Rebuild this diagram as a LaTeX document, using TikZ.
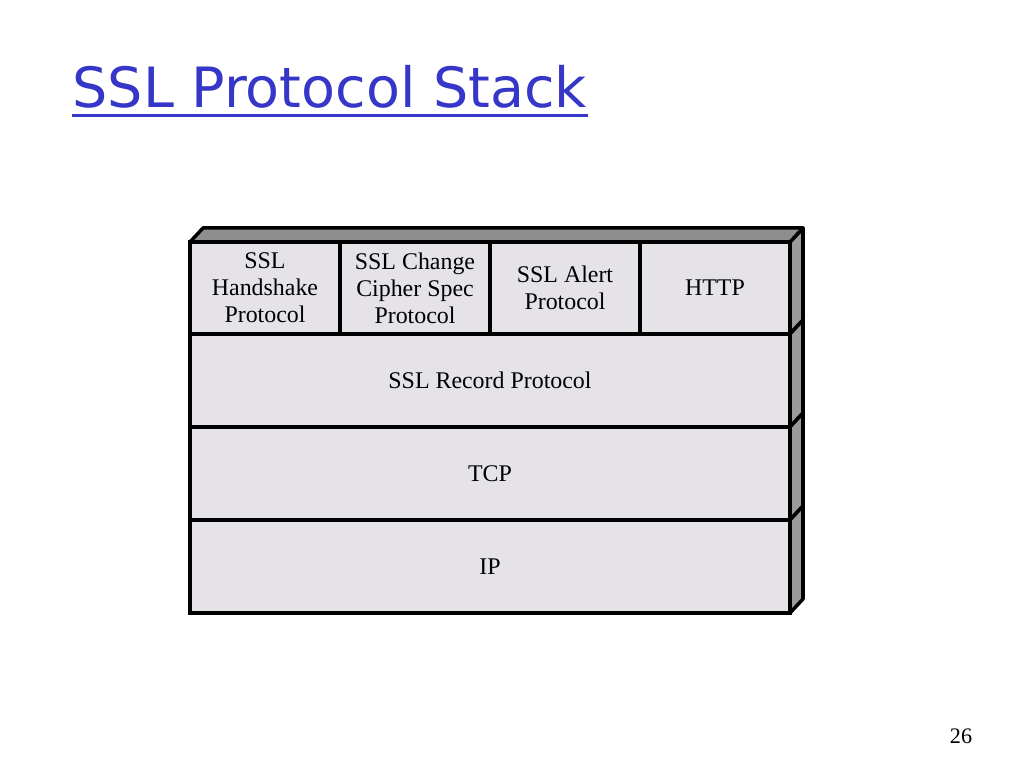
\documentclass[tikz,border=0pt]{standalone}
\usepackage{fontspec}
\setmainfont{Liberation Serif}
\newfontfamily\titlefont{DejaVu Sans}
\usetikzlibrary{positioning, calc}

\definecolor{titleblue}{HTML}{3636C8}
\definecolor{facefill}{HTML}{E5E3E7}
\definecolor{topfill}{HTML}{8E8E8E}
\definecolor{sidefill}{HTML}{9B9B9B}

\begin{document}
\begin{tikzpicture}[
    every node/.style={font=\fontsize{6.8}{7.7}\selectfont},
    cell/.style={rectangle, draw, line width=1pt, fill=facefill, minimum width=1.5cm, minimum height=0.92cm, align=center, inner sep=0pt, outer sep=0pt},
    layer/.style={cell, minimum width=6cm, minimum height=0.93cm},
    side/.style={draw, line width=1pt, fill=sidefill, line join=round},
    lid/.style={draw, line width=1pt, fill=topfill, line join=round},
    heading/.style={font=\titlefont\fontsize{15.8}{19}\selectfont, text=titleblue, inner sep=0pt}
]

% Page
\fill[white] (0,0) rectangle (10.24,7.68);
\useasboundingbox (0,0) rectangle (10.24,7.68);

% Title
\node[heading, anchor=base west] (title) at (0.72, 6.60) {SSL Protocol Stack};
\draw[titleblue, line width=0.025cm] ($(title.base west)+(0,-0.075)$) -- ($(title.base east)+(0,-0.075)$);

% ============ UPPER LAYER PROTOCOLS ============
\node[cell] (handshake) at (2.65, 4.80) {SSL\\Handshake\\Protocol};
\node[cell, right=0pt of handshake] (cipher) {SSL Change\\Cipher Spec\\Protocol};
\node[cell, right=0pt of cipher] (alert) {SSL Alert\\Protocol};
\node[cell, right=0pt of alert] (http) {HTTP};

% ============ LOWER LAYERS ============
\node[layer, below right=0pt and 0pt of handshake.south west] (record) {SSL Record Protocol};
\node[layer, below=0pt of record] (tcp) {TCP};
\node[layer, below=0pt of tcp] (ip) {IP};

% ============ 3D FACES ============
\foreach \r in {http, record, tcp, ip}
    \draw[side] (\r.north east) -- ++(0.13,0.14) -- ($(\r.south east)+(0.13,0.14)$) -- (\r.south east) -- cycle;
\draw[lid] (handshake.north west) -- ++(0.13,0.14) -- ($(http.north east)+(0.13,0.14)$) -- (http.north east) -- cycle;

% Page number
\node[font=\fontsize{6.3}{7}\selectfont] (pagenum) at (9.61, 0.32) {26};

\end{tikzpicture}
\end{document}
